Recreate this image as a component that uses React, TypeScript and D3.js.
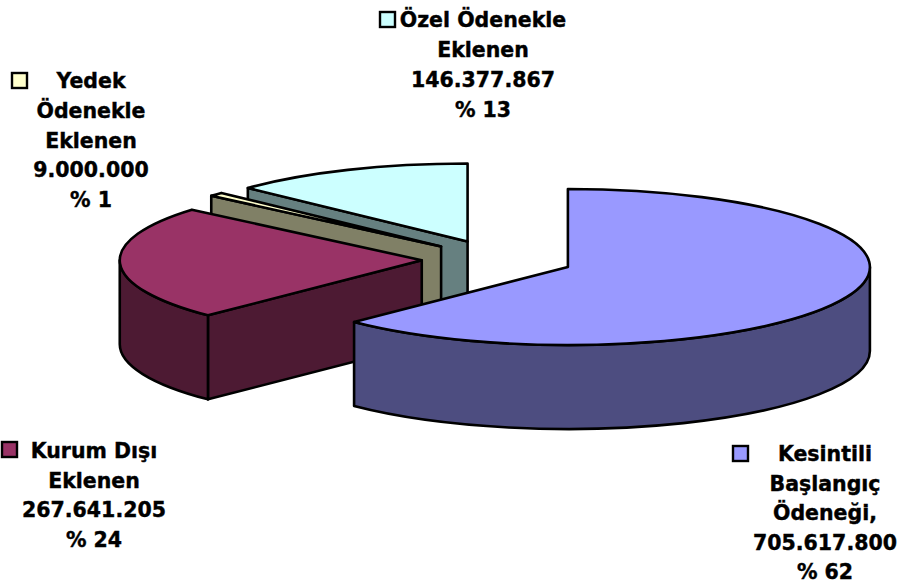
import React from 'react';
import * as d3 from 'd3';

const width = 901;
const height = 586;

// pie order, clockwise from 12 o'clock
const values = [705617800, 267641205, 9000000, 146377867];
const percents = [62, 24, 1, 13];
const nameLines = [
  ['Kesintili', 'Başlangıç', 'Ödeneği,'],
  ['Kurum Dışı', 'Eklenen'],
  ['Yedek', 'Ödenekle', 'Eklenen'],
  ['Özel Ödenekle', 'Eklenen'],
];
const topColors = ['#9999ff', '#993366', '#ffffcc', '#ccffff'];
const wallColors = ['#4d4d80', '#4d1a33', '#808066', '#668080'];

// label placement: centre x, first baseline, line step, key x, key y
const labelX = [825, 94, 91, 483];
const labelY = [461, 458, 88, 27];
const labelStep = [29.5, 29.5, 29.8, 30];
const keyX = [733, 2, 12, 380];
const keyY = [446, 442, 73, 12];

const cx = 497.7;
const cy = 259.5;
const rx = 302;
const ry = 78;
const depth = 84;
const explode = 76;

const fmt = d3.formatLocale({ decimal: ',', thousands: '.', grouping: [3], currency: ['', ''] }).format(',d');

const slices = d3.pie<number>().sort(null).value(d => d)(values);

const pt = (x0: number, y0: number, a: number, dy = 0): [number, number] => [
  x0 + rx * Math.sin(a),
  y0 - ry * Math.cos(a) + dy,
];

const App = () => {
  const parts = slices.map((s, i) => {
    const mid = (s.startAngle + s.endAngle) / 2;
    const x0 = cx + explode * Math.sin(mid);
    const y0 = cy - explode * (ry / rx) * Math.cos(mid);
    const a = pt(x0, y0, s.startAngle);
    const b = pt(x0, y0, s.endAngle);
    const large = s.endAngle - s.startAngle > Math.PI ? 1 : 0;
    const top = `M${x0},${y0}L${a[0]},${a[1]}A${rx},${ry} 0 ${large} 1 ${b[0]},${b[1]}Z`;

    // radial wall along the start edge, only when it faces the viewer
    let radial: string | null = null;
    if (Math.sin(s.startAngle) < -1e-6) {
      radial = `M${a[0]},${a[1]}L${x0},${y0}L${x0},${y0 + depth}L${a[0]},${a[1] + depth}Z`;
    }

    // outer wall: the part of the rim on the front half
    const from = Math.max(s.startAngle, Math.PI / 2);
    const to = Math.min(s.endAngle, (3 * Math.PI) / 2);
    let rim: string | null = null;
    if (to > from) {
      const p = pt(x0, y0, from);
      const q = pt(x0, y0, to);
      rim =
        `M${p[0]},${p[1]}A${rx},${ry} 0 0 1 ${q[0]},${q[1]}` +
        `L${q[0]},${q[1] + depth}A${rx},${ry} 0 0 0 ${p[0]},${p[1] + depth}Z`;
    }
    return { i, top, radial, rim };
  });

  const stroke = { stroke: '#000', strokeWidth: 2.6, strokeLinejoin: 'round' as const };

  return (
    <svg
      width={width}
      height={height}
      viewBox={`0 0 ${width} ${height}`}
      style={{ position: 'absolute', left: 0, top: 0, background: '#fff' }}
    >
      {[...parts].reverse().map(p => (
        <g key={p.i}>
          {p.radial && <path d={p.radial} fill={wallColors[p.i]} {...stroke} />}
          {p.rim && <path d={p.rim} fill={wallColors[p.i]} {...stroke} />}
          <path d={p.top} fill={topColors[p.i]} {...stroke} />
        </g>
      ))}
      {values.map((v, i) => {
        const lines = [...nameLines[i], fmt(v), `% ${percents[i]}`];
        return (
          <g key={i}>
            <rect x={keyX[i]} y={keyY[i]} width={15} height={15} fill={topColors[i]} stroke="#000" strokeWidth={2.4} />
            <text
              textAnchor="middle"
              fontFamily="'DejaVu Sans', sans-serif"
              fontWeight="bold"
              fontSize={20.5}
              fill="#000"
              stroke="#000"
              strokeWidth={0.4}
            >
              {lines.map((t, j) => (
                <tspan key={j} x={labelX[i]} y={labelY[i] + j * labelStep[i]}>
                  {t}
                </tspan>
              ))}
            </text>
          </g>
        );
      })}
    </svg>
  );
};

export default App;
